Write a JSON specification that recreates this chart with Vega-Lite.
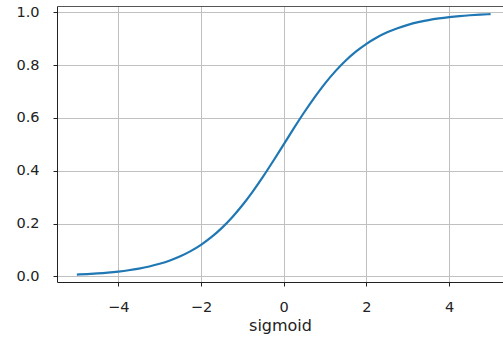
{
  "$schema": "https://vega.github.io/schema/vega-lite/v6.json",
  "width": 446,
  "height": 276,
  "autosize": {"type": "none"},
  "padding": {"left": 57, "top": 6, "right": 0, "bottom": 61},
  "background": "white",
  "config": {
    "view": {"stroke": null},
    "axis": {
      "labelFont": "DejaVu Sans",
      "titleFont": "DejaVu Sans",
      "labelColor": "#222222",
      "titleColor": "#222222",
      "labelFontSize": 14.5,
      "titleFontSize": 16,
      "titleFontWeight": "normal",
      "tickColor": "#222222",
      "tickSize": 4,
      "domainColor": "#222222",
      "gridColor": "#c0c0c0",
      "gridWidth": 1
    }
  },
  "data": {
    "values": [
      {"x": -5, "y": 0.00669}, {"x": -4.75, "y": 0.00858}, {"x": -4.5, "y": 0.01099}, {"x": -4.25, "y": 0.01406},
      {"x": -4, "y": 0.01799}, {"x": -3.75, "y": 0.02298}, {"x": -3.5, "y": 0.02931}, {"x": -3.25, "y": 0.03732},
      {"x": -3, "y": 0.04743}, {"x": -2.75, "y": 0.06008}, {"x": -2.5, "y": 0.07586}, {"x": -2.25, "y": 0.09535},
      {"x": -2, "y": 0.1192}, {"x": -1.75, "y": 0.14805}, {"x": -1.5, "y": 0.18243}, {"x": -1.25, "y": 0.2227},
      {"x": -1, "y": 0.26894}, {"x": -0.75, "y": 0.32082}, {"x": -0.5, "y": 0.37754}, {"x": -0.25, "y": 0.43782},
      {"x": 0, "y": 0.5}, {"x": 0.25, "y": 0.56218}, {"x": 0.5, "y": 0.62246}, {"x": 0.75, "y": 0.67918},
      {"x": 1, "y": 0.73106}, {"x": 1.25, "y": 0.7773}, {"x": 1.5, "y": 0.81757}, {"x": 1.75, "y": 0.85195},
      {"x": 2, "y": 0.8808}, {"x": 2.25, "y": 0.90465}, {"x": 2.5, "y": 0.92414}, {"x": 2.75, "y": 0.93992},
      {"x": 3, "y": 0.95257}, {"x": 3.25, "y": 0.96268}, {"x": 3.5, "y": 0.97069}, {"x": 3.75, "y": 0.97702},
      {"x": 4, "y": 0.98201}, {"x": 4.25, "y": 0.98594}, {"x": 4.5, "y": 0.98901}, {"x": 4.75, "y": 0.99142},
      {"x": 5, "y": 0.99331}
    ]
  },
  "encoding": {
    "y": {
      "field": "y", "type": "quantitative",
      "scale": {"domain": [-0.0216, 1.024], "nice": false, "zero": false},
      "axis": {"values": [0, 0.2, 0.4, 0.6, 0.8, 1.0], "format": ".1f", "labelPadding": 14, "title": null, "labelFlush": false}
    }
  },
  "layer": [
    {
      "mark": {"type": "line", "color": "#1f77b4", "strokeWidth": 2.2, "interpolate": "monotone"},
      "encoding": {
        "x": {
          "field": "x", "type": "quantitative",
          "scale": {"domain": [-5.48, 5.3], "nice": false, "zero": false},
          "axis": {"orient": "bottom", "values": [-4, -2, 0, 2, 4], "format": "d", "labelPadding": 14, "title": "sigmoid", "titlePadding": 4, "labelFlush": false}
        }
      }
    },
    {
      "mark": {"type": "line", "opacity": 0},
      "encoding": {
        "x": {
          "field": "x", "type": "quantitative",
          "axis": {"orient": "top", "labels": false, "ticks": false, "grid": false, "domain": true, "title": null, "domainColor": "#555555"}
        }
      }
    }
  ],
  "resolve": {"axis": {"x": "independent"}}
}
